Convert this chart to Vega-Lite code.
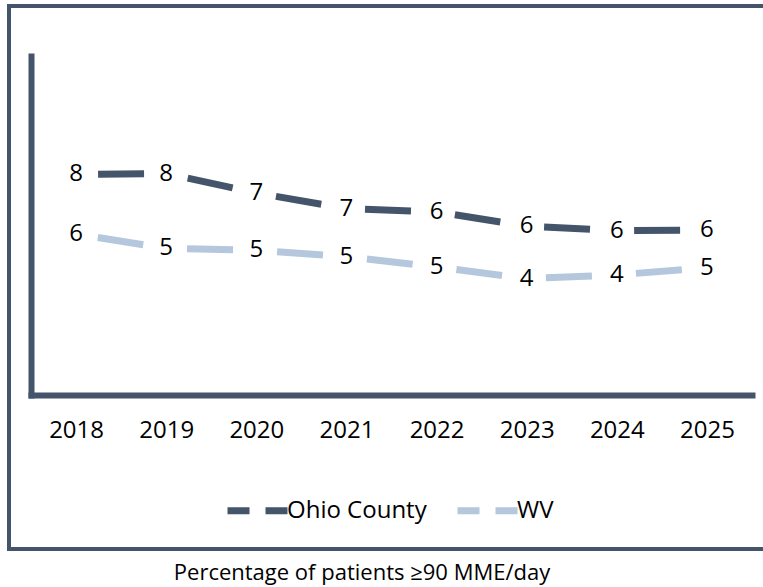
{
  "$schema": "https://vega.github.io/schema/vega-lite/v6.json",
  "autosize": {"type": "none"},
  "width": 758,
  "height": 543,
  "padding": {"left": 9, "top": 6, "right": 0, "bottom": 38},
  "background": "white",
  "title": {"text": "Percentage of patients ≥90 MME/day", "orient": "bottom", "anchor": "middle", "fontSize": 22, "font": "Open Sans", "fontWeight": "normal", "color": "#000000", "offset": 14, "dx": -26},
  "config": {
    "view": {"stroke": "#44546A", "strokeWidth": 4},
    "font": "Open Sans"
  },
  "data": {"values": [
    {"year": "2018", "series": "Ohio County", "value": 7.81},
    {"year": "2019", "series": "Ohio County", "value": 7.84},
    {"year": "2020", "series": "Ohio County", "value": 7.15},
    {"year": "2021", "series": "Ohio County", "value": 6.60},
    {"year": "2022", "series": "Ohio County", "value": 6.48},
    {"year": "2023", "series": "Ohio County", "value": 5.98},
    {"year": "2024", "series": "Ohio County", "value": 5.82},
    {"year": "2025", "series": "Ohio County", "value": 5.84},
    {"year": "2018", "series": "WV", "value": 5.70},
    {"year": "2019", "series": "WV", "value": 5.19},
    {"year": "2020", "series": "WV", "value": 5.12},
    {"year": "2021", "series": "WV", "value": 4.90},
    {"year": "2022", "series": "WV", "value": 4.53},
    {"year": "2023", "series": "WV", "value": 4.12},
    {"year": "2024", "series": "WV", "value": 4.25},
    {"year": "2025", "series": "WV", "value": 4.51}
  ]},
  "encoding": {
    "x": {"field": "year", "type": "ordinal", "scale": {"range": [22, 743], "padding": 0.5},
      "axis": {"orient": "bottom", "offset": -154, "title": null, "ticks": false, "grid": false, "labelAngle": 0,
        "domainColor": "#44546A", "domainWidth": 6, "domainCap": "square",
        "labelFont": "Open Sans", "labelFontSize": 24, "labelColor": "#000000", "labelPadding": 23}},
    "y": {"field": "value", "type": "quantitative", "scale": {"domain": [0, 12], "range": [389, 50], "nice": false, "zero": false},
      "axis": {"orient": "left", "offset": -22, "title": null, "ticks": false, "labels": false, "grid": false,
        "domainColor": "#44546A", "domainWidth": 6, "domainCap": "square"}}
  },
  "layer": [
    {
      "mark": {"type": "line", "strokeWidth": 7, "strokeDash": [0, 22, 46, 22.125], "strokeCap": "butt"},
      "encoding": {
        "color": {"field": "series", "type": "nominal",
          "scale": {"domain": ["Ohio County", "WV"], "range": ["#44546A", "#B4C7DC"]},
          "legend": {"orient": "none", "direction": "horizontal", "legendX": 215, "legendY": 471, "title": null,
            "symbolType": "stroke", "symbolSize": 3600, "symbolStrokeWidth": 7, "symbolDash": [22, 16],
            "labelFont": "Open Sans", "labelFontSize": 24, "labelColor": "#000000", "labelOffset": -4,
            "columnPadding": 16, "padding": 0}}
      }
    },
    {
      "mark": {"type": "text", "fontSize": 24, "font": "Open Sans", "color": "#000000", "baseline": "middle", "align": "center"},
      "encoding": {
        "text": {"field": "value", "type": "quantitative", "format": ".0f"},
        "detail": {"field": "series", "type": "nominal"}
      }
    }
  ]
}
